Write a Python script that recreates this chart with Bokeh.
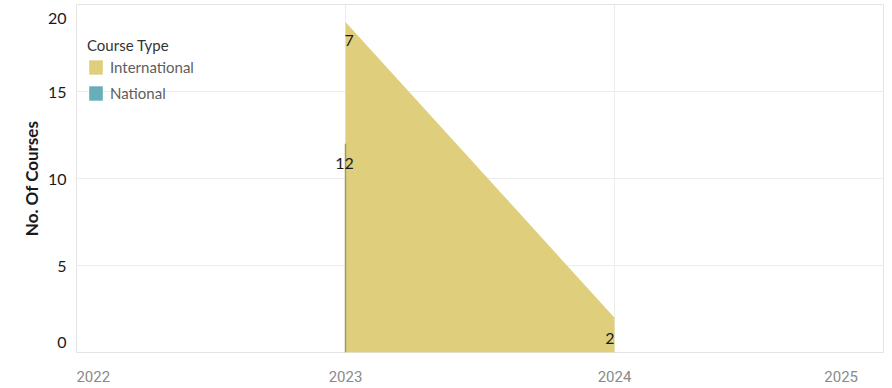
import math
from bokeh.plotting import figure
from bokeh.models import Range1d, FixedTicker, Legend, LegendItem, ColumnDataSource
from bokeh.embed import file_html
from bokeh.resources import INLINE
from bokeh.core.properties import value

years = [2023, 2024]
international = [7, 2]
national = [12, 0]
year_ticks = [2022, 2023, 2024, 2025]
y_ticks = [0, 5, 10, 15, 20]

YELLOW = "#DFCF7D"
TEAL = "#67AEB9"
FONT = "Lato"
NB = "\u00a0"

tops = [n + i for n, i in zip(national, international)]

p = figure(width=891, height=388, output_backend="svg", toolbar_location=None,
           x_range=Range1d(year_ticks[0], year_ticks[-1]), y_range=Range1d(y_ticks[0], y_ticks[-1]),
           min_border_left=76, min_border_right=8, min_border_top=4, min_border_bottom=36)
p.outline_line_color = "#e4e4e4"
p.background_fill_color = "white"

src = ColumnDataSource(dict(x=years, top=tops, zero=[0, 0]))
r_int = p.varea(x="x", y1="zero", y2="top", source=src, fill_color=YELLOW, fill_alpha=1.0)
r_nat = p.varea(x=[years[0]], y1=[0], y2=[national[0]], fill_color=TEAL)
p.segment(x0=[years[0]], y0=[0], x1=[years[0]], y1=[national[0]], line_color="#9EA057", line_width=1.5)

# value labels
lab = dict(text_font=value(FONT), text_font_size="16px", text_color="#1a1a1a", text_baseline="middle")
p.text(x=[years[0]], y=[tops[0]], text=[str(international[0])], text_align="left",
       y_offset=19, x_offset=-1, **lab)
p.text(x=[years[0]], y=[national[0]], text=[str(national[0])], text_align="center",
       y_offset=20, x_offset=-1, **lab)
p.text(x=[years[1]], y=[tops[1]], text=[str(international[1])], text_align="right",
       y_offset=21, x_offset=0, **lab)

# axes
p.xaxis.ticker = FixedTicker(ticks=year_ticks)
p.yaxis.ticker = FixedTicker(ticks=y_ticks)
for ax in (p.xaxis, p.yaxis):
    ax.axis_line_color = None
    ax.major_tick_line_color = None
    ax.minor_tick_line_color = None
    ax.major_label_text_font = FONT

# edge labels kept inside the frame's span, as in the original
p.xaxis.major_label_overrides = {year_ticks[0]: NB * 9 + str(year_ticks[0]),
                                 year_ticks[-1]: str(year_ticks[-1]) + NB * 9}
p.yaxis.major_label_overrides = {y_ticks[0]: str(y_ticks[0]) + ("\n" + NB) * 3,
                                 y_ticks[-1]: NB + "\n" + str(y_ticks[-1])}
p.xaxis.major_label_text_color = "#8a8a8a"
p.xaxis.major_label_text_font = "Roboto"
p.xaxis.major_label_text_font_size = "15px"
p.xaxis.major_label_standoff = 9
p.yaxis.major_label_text_color = "#1a1a1a"
p.yaxis.major_label_text_font_size = "16px"
p.yaxis.major_label_text_align = "right"
p.yaxis.major_label_text_line_height = 0.4
p.yaxis.major_label_standoff = 4
p.yaxis.axis_label = "No. Of Courses"
p.yaxis.axis_label_text_font = FONT
p.yaxis.axis_label_text_font_style = "bold"
p.yaxis.axis_label_text_font_size = "17px"
p.yaxis.axis_label_text_color = "#1a1a1a"
p.yaxis.axis_label_standoff = 3

p.xgrid.grid_line_color = "#ececec"
p.ygrid.grid_line_color = "#ececec"

legend = Legend(items=[LegendItem(label="International", renderers=[r_int]),
                       LegendItem(label="National", renderers=[r_nat])],
                location=(11, 250), title="Course Type")
legend.title_text_font = FONT
legend.title_text_font_size = "15px"
legend.title_text_font_style = "normal"
legend.title_text_color = "#333"
legend.label_text_font = FONT
legend.label_text_font_size = "15px"
legend.label_text_color = "#5e5e5e"
legend.glyph_width = 17
legend.glyph_height = 18
legend.label_standoff = 6
legend.spacing = 8
legend.padding = 4
legend.margin = 0
legend.border_line_color = None
legend.background_fill_alpha = 0
legend.title_standoff = 4
p.add_layout(legend)

open("out.html", "w").write(file_html(p, INLINE))
